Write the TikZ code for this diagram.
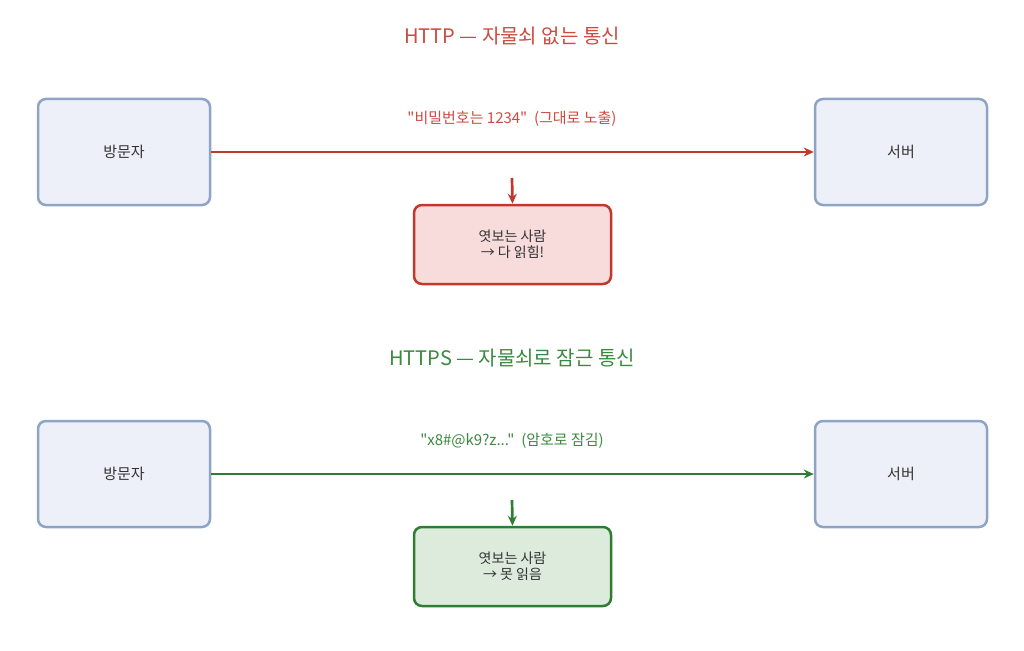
\documentclass[tikz,border=0pt]{standalone}
\usepackage{fontspec}
\setmainfont{Noto Sans CJK KR}[Ligatures=TeXOff]
\usetikzlibrary{arrows.meta}
\definecolor{redc}{HTML}{C0392B}
\definecolor{redt}{HTML}{CC4A40}
\definecolor{redf}{HTML}{F8DCDC}
\definecolor{grnc}{HTML}{2E7D32}
\definecolor{grnt}{HTML}{3A8A3E}
\definecolor{grnf}{HTML}{DCEBDC}
\definecolor{bluec}{HTML}{8DA4C4}
\definecolor{bluef}{HTML}{EDF0F8}
\definecolor{txt}{HTML}{333333}
\tikzset{
  party/.style={draw=bluec, fill=bluef, line width=2.5pt, rounded corners=8pt, minimum width=172pt, minimum height=106pt, text=txt, font=\fontsize{15}{18}\selectfont, inner sep=0pt},
  spy/.style={line width=2.5pt, rounded corners=8pt, minimum width=197pt, minimum height=79pt, text=txt, font=\fontsize{14}{16}\selectfont, align=center, inner sep=0pt},
  flow/.style={line width=2.7pt, -{Stealth[length=10pt,width=9pt]}},
  ttl/.style={font=\fontsize{20}{24}\selectfont},
  lbl/.style={font=\fontsize{15}{18}\selectfont},
}
\begin{document}
\begin{tikzpicture}[x=1pt,y=-1pt]
\useasboundingbox (0,0) rectangle (1024,650);
% HTTP
\node[ttl, text=redt] (t1) at (512,36) {HTTP — 자물쇠 없는 통신};
\node[party] (v1) at (124,152) {방문자};
\node[party] (s1) at (901,152) {서버};
\draw[flow, redc] (v1) -- (s1);
\node[lbl, text=redt] (l1) at (512,119) {"비밀번호는 1234"\ \ (그대로 노출)};
\node[spy, draw=redc, fill=redf] (e1) at (512.5,244.5) {엿보는 사람\\→ 다 읽힘!};
\coordinate (c1) at (512,178);
\draw[flow, redc] (c1) -- (e1.north);
% HTTPS
\node[ttl, text=grnt] (t2) at (512,358) {HTTPS — 자물쇠로 잠근 통신};
\node[party] (v2) at (124,474) {방문자};
\node[party] (s2) at (901,474) {서버};
\draw[flow, grnc] (v2) -- (s2);
\node[lbl, text=grnt] (l2) at (512,441) {"x8\#@k9?z..."\ \ (암호로 잠김)};
\node[spy, draw=grnc, fill=grnf] (e2) at (512.5,566.5) {엿보는 사람\\→ 못 읽음};
\coordinate (c2) at (512,500);
\draw[flow, grnc] (c2) -- (e2.north);
\end{tikzpicture}
\end{document}
